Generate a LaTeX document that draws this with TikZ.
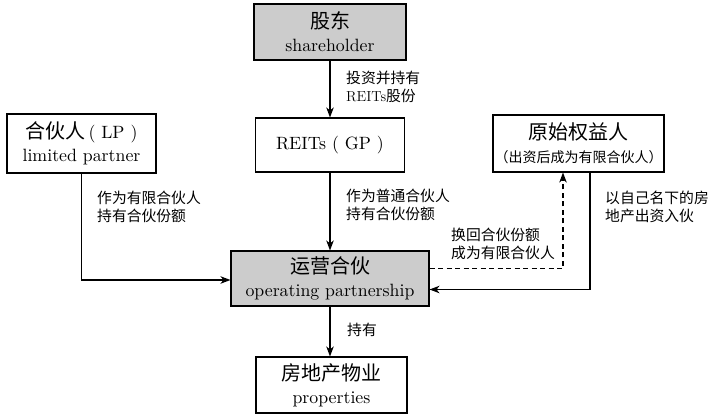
\documentclass[tikz,border=0pt]{standalone}
\usepackage{graphicx}
\usepackage{fontspec}
\newfontfamily\cjk{Noto Sans CJK SC}
\usetikzlibrary{arrows.meta,calc}
\tikzset{
  bx/.style={draw=black, line width=1.1pt, inner sep=0pt, align=center, fill=white,
    font=\fontsize{10}{23}\selectfont},
  gbx/.style={bx, fill=gray!40},
  arr/.style={line width=1.1pt, -{Stealth[length=10pt,width=7.5pt,inset=3pt]}},
  darr/.style={arr, dashed, dash pattern=on 5pt off 3.5pt},
  lbl/.style={anchor=north west, inner sep=0pt, align=left, font=\cjk\fontsize{14.8}{18}\selectfont},
}
\newcommand{\bigcjk}[1]{{\cjk\fontsize{20}{23}\selectfont #1}}
\newcommand{\en}[1]{\scalebox{1.78}{#1}}
\begin{document}
\begin{tikzpicture}[x=1pt,y=-1pt]
\useasboundingbox (0,0) rectangle (711,414);
\node[gbx, minimum width=152pt, minimum height=56pt] (sh) at (330,32) {\bigcjk{股东}\\\en{shareholder}};
\node[bx, minimum width=149pt, minimum height=54pt] (gp) at (330,145) {\en{REITs ( GP )}};
\node[bx, minimum width=149pt, minimum height=59pt] (lp) at (81.5,143.5) {\bigcjk{合伙人}\en{\,( LP )}\\\en{limited partner}};
\node[bx, minimum width=171pt, minimum height=57pt] (ys) at (578.5,143.5) {\bigcjk{原始权益人}\\{\cjk\fontsize{14}{18}\selectfont （出资后成为有限合伙人）}};
\node[gbx, minimum width=198pt, minimum height=55pt] (op) at (330,278.5) {\bigcjk{运营合伙}\\\en{operating partnership}};
\node[bx, minimum width=151pt, minimum height=56pt] (pr) at (331.5,385) {\bigcjk{房地产物业}\\\en{properties}};

\draw[arr] (sh) -- (gp);
\draw[arr] (gp) -- (op);
\draw[arr] (op.south -| sh) -- (pr.north -| sh);
\draw[arr] (lp.south) |- ($(op.west)+(0,1.5)$);
\draw[arr] ($(ys.south)+(11.5,0)$) |- ($(op.east)+(0,11)$);
\draw[darr] ($(op.east)+(0,-10)$) -| ($(ys.south)+(-15.5,0)$);

\node[lbl] (l1) at (346,71) {投资并持有\\{\rmfamily\fontsize{14.5}{18}\selectfont REITs}股份};
\node[lbl] (l2) at (346,189) {作为普通合伙人\\持有合伙份额};
\node[lbl] (l3) at (97,191) {作为有限合伙人\\持有合伙份额};
\node[lbl] (l4) at (605,191) {以自己名下的房\\地产出资入伙};
\node[lbl] (l5) at (451,228) {换回合伙份额\\成为有限合伙人};
\node[lbl] (l6) at (347,323) {持有};
\end{tikzpicture}
\end{document}
